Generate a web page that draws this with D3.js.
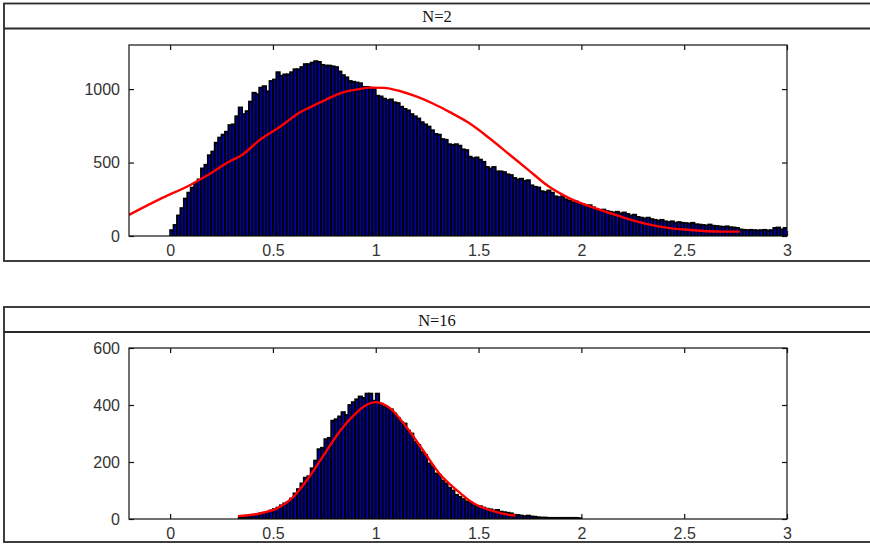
<!DOCTYPE html>
<html><head><meta charset="utf-8">
<script src="https://cdn.jsdelivr.net/npm/d3@7"></script>
<style>body{margin:0;background:#fff}svg{display:block}</style>
</head><body>
<script>
// ---- data ----
const binWidth = 1/60;
const titles = ["N=2", "N=16"];
const xTicks = [0, 0.5, 1, 1.5, 2, 2.5, 3];
const xTickLabels = ["0", "0.5", "1", "1.5", "2", "2.5", "3"];
const yTicksTop = [0, 500, 1000];
const yTicksBottom = [0, 200, 400, 600];

// N=2 histogram counts, bins starting at 0
const countsTopStart = 0;
const countsTop = [40,75,140,190,255,295,330,360,385,460,485,550,575,635,670,690,710,755,760,815,875,830,850,915,975,965,1010,1020,985,1055,1065,1115,1090,1100,1100,1115,1135,1135,1150,1170,1170,1180,
1190,1185,1165,1160,1160,1155,1150,1120,1095,1080,1055,1050,1045,1040,1015,1015,1010,1005,
955,950,935,925,930,910,905,880,865,855,830,815,800,775,760,745,720,695,
690,660,655,625,620,625,615,590,585,540,530,535,520,505,470,460,470,440,
440,435,420,415,395,385,390,375,380,345,335,330,305,300,310,295,270,265,270,250,240,230,235,220,
215,205,210,195,180,175,180,170,165,160,165,155,160,150,140,145,130,125,120,125,115,110,105,110,100,95,100,90,95,90,
88,85,90,80,78,75,72,78,70,68,65,62,66,60,58,55,45,42,40,42,40,38,40,42,38,40,55,58,45,55];

// N=16 histogram counts, bins starting at bin index 20 (x = 1/3)
const countsBottomStart = 20;
const countsBottom = [5,8,10,12,15,18,20,22,25,30,35,40,48,55,60,72,90,105,125,145,150,178,205,245,250,280,285,345,350,360,375,365,400,410,420,430,425,440,440,415,
440,405,395,390,385,370,355,340,335,310,300,270,260,235,225,195,185,160,155,135,125,110,100,85,78,70,62,60,52,45,45,40,36,34,30,32,26,24,22,20,15,14,12,10,12,9,8,6,5,5,4,4,4,4,4,4,4,4,4,3];

// fitted curves (red)
const fitTopX = [-0.2,-0.05,0.1,0.2,0.29,0.34,0.44,0.54,0.63,0.73,0.83,0.92,0.97,1.04,1.12,1.2,1.28,1.36,1.45,1.55,1.65,1.74,1.84,1.94,2.04,2.13,2.24,2.38,2.53,2.68,2.77];
const fitTopY = [144,251,349,429,509,543,658,749,840,909,973,1000,1010,1008,985,948,900,843,772,669,555,452,338,258,201,160,110,64,41,30,30];
const fitBottomX = [0.33,0.44,0.52,0.6,0.665,0.746,0.827,0.908,0.95,1.0,1.07,1.15,1.23,1.31,1.394,1.475,1.556,1.653,1.68];
const fitBottomY = [10,20,37,78,136,223,310,374,398,410,388,322,241,159,101,55,31,14,12];

// ---- drawing ----
const W = 870, H = 544;
const svg = d3.select("body").append("svg").attr("width", W).attr("height", H);

const panels = [
  {title: titles[0], box: [3.5, 261], plot: [45, 236], yMax: 1300, yTicks: yTicksTop,
   counts: countsTop, start: countsTopStart, fx: fitTopX, fy: fitTopY},
  {title: titles[1], box: [307, 542], plot: [348, 519], yMax: 600, yTicks: yTicksBottom,
   counts: countsBottom, start: countsBottomStart, fx: fitBottomX, fy: fitBottomY}
];

const left = 129, right = 787;
panels.forEach((p, i) => {
  const g = svg.append("g");
  g.append("rect").attr("x", 4).attr("y", p.box[0]).attr("width", 880).attr("height", p.box[1] - p.box[0])
    .attr("fill", "none").attr("stroke", "#2a2a2a").attr("stroke-width", 1.8);
  g.append("line").attr("x1", 4).attr("x2", 880).attr("y1", p.box[0] + 25).attr("y2", p.box[0] + 25)
    .attr("stroke", "#2a2a2a").attr("stroke-width", 1.8);
  g.append("text").attr("x", 437).attr("y", p.box[0] + 18.5).attr("text-anchor", "middle")
    .attr("font-family", "Liberation Serif, Times New Roman, serif").attr("font-size", 16.5)
    .attr("fill", "#111").text(p.title);

  const x = d3.scaleLinear().domain([-0.2, 3]).range([left, right]);
  const y = d3.scaleLinear().domain([0, p.yMax]).range([p.plot[1], p.plot[0]]);

  const clipId = "clip" + i;
  svg.append("clipPath").attr("id", clipId).append("rect")
    .attr("x", left).attr("y", p.plot[0]).attr("width", right - left).attr("height", p.plot[1] - p.plot[0]);

  const data = p.counts.map((c, k) => ({x0: (p.start + k) * binWidth, x1: (p.start + k + 1) * binWidth, c}));
  g.append("g").attr("clip-path", `url(#${clipId})`).selectAll("rect").data(data).join("rect")
    .attr("x", d => x(d.x0)).attr("width", d => x(d.x1) - x(d.x0))
    .attr("y", d => y(d.c)).attr("height", d => y(0) - y(d.c))
    .attr("fill", "#0000b4").attr("stroke", "#000").attr("stroke-width", 1.8);

  const line = d3.line().x(d => x(d[0])).y(d => y(d[1])).curve(d3.curveMonotoneX);
  g.append("path").attr("clip-path", `url(#${clipId})`)
    .attr("d", line(p.fx.map((v, k) => [v, p.fy[k]])))
    .attr("fill", "none").attr("stroke", "#ff0000").attr("stroke-width", 2.4);

  g.append("rect").attr("x", left).attr("y", p.plot[0]).attr("width", right - left).attr("height", p.plot[1] - p.plot[0])
    .attr("fill", "none").attr("stroke", "#111").attr("stroke-width", 1.2);

  const font = "Liberation Sans, Arial, sans-serif";
  const axB = d3.axisBottom(x).tickValues(xTicks).tickSize(-5).tickPadding(9).tickFormat((d, k) => xTickLabels[k]);
  const axT = d3.axisTop(x).tickValues(xTicks).tickSize(-5).tickFormat("");
  const axL = d3.axisLeft(y).tickValues(p.yTicks).tickSize(-5).tickPadding(9).tickFormat(d3.format("d"));
  const axR = d3.axisRight(y).tickValues(p.yTicks).tickSize(-5).tickFormat("");
  [[axB, `translate(0,${p.plot[1]})`], [axT, `translate(0,${p.plot[0]})`],
   [axL, `translate(${left},0)`], [axR, `translate(${right},0)`]].forEach(([ax, tr]) => {
    const a = g.append("g").attr("transform", tr).call(ax);
    a.select(".domain").remove();
    a.selectAll(".tick line").attr("stroke", "#111").attr("stroke-width", 1.2);
    a.selectAll("text").attr("font-family", font).attr("font-size", 16).attr("fill", "#333");
  });
});
</script>
</body></html>
